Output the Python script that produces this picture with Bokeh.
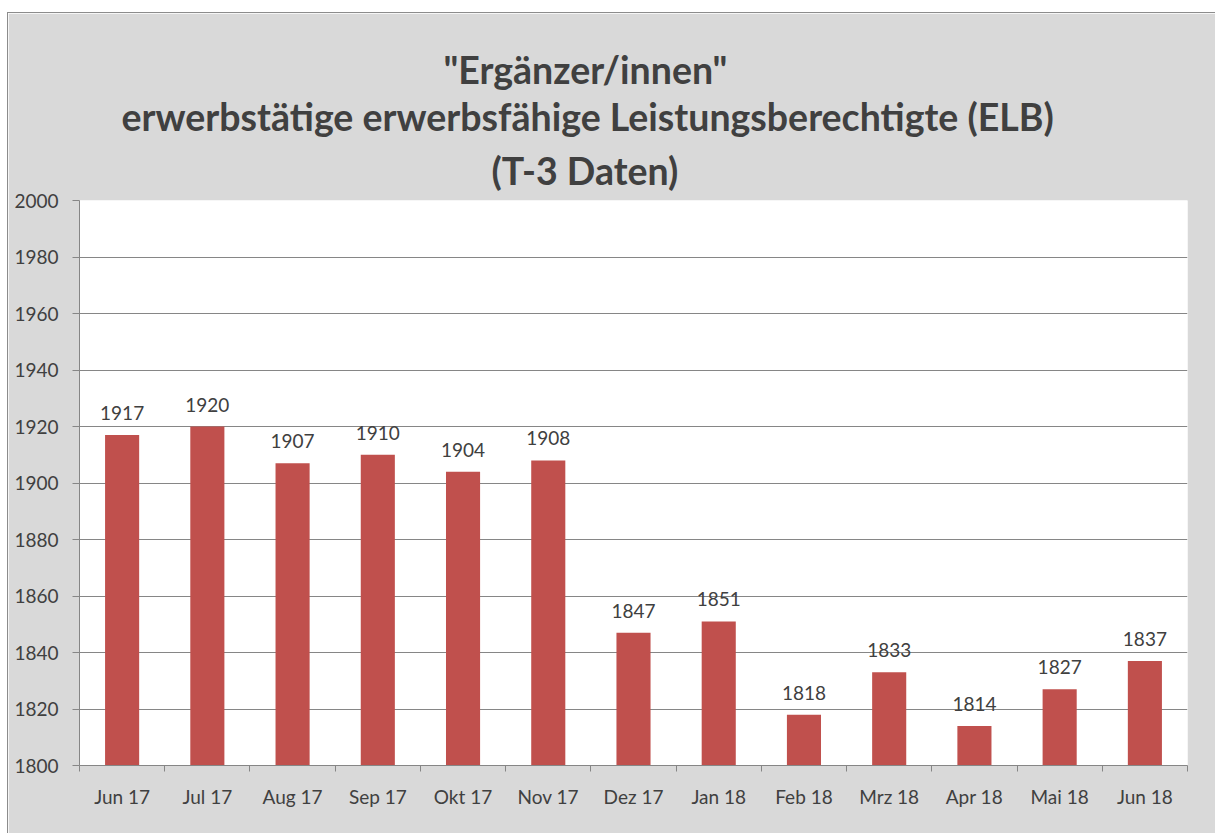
from bokeh.plotting import figure
from bokeh.models import FixedTicker, Range1d, Title, ColumnDataSource
from bokeh.core.properties import value
from bokeh.embed import file_html
from bokeh.resources import INLINE

months = ["Jun 17", "Jul 17", "Aug 17", "Sep 17", "Okt 17", "Nov 17", "Dez 17",
          "Jan 18", "Feb 18", "Mrz 18", "Apr 18", "Mai 18", "Jun 18"]
counts = [1917, 1920, 1907, 1910, 1904, 1908, 1847, 1851, 1818, 1833, 1814, 1827, 1837]
y_ticks = list(range(1800, 2001, 20))
title_lines = ['"Ergänzer/innen"',
               'erwerbstätige erwerbsfähige Leistungsberechtigte (ELB)',
               '(T-3 Daten)']
title_offsets = [364, 42, 412]   # left offsets (px) so each line is centred like the reference

FONT = "Lato"
TXT = "#404040"
GRID = "#868686"
BG = "#d9d9d9"

xs = [i + 0.5 for i in range(len(months))]
src = ColumnDataSource(dict(x=xs, top=counts, lab=[str(c) for c in counts]))

p = figure(width=1208, height=821, output_backend="svg", toolbar_location=None,
           x_range=Range1d(0, len(months)), y_range=Range1d(y_ticks[0], y_ticks[-1]),
           min_border_left=71, min_border_right=29, min_border_top=187, min_border_bottom=69)
p.title = None
p.styles = {"margin-left": "7px", "margin-top": "12px",
            "border-left": "1px solid #8c8c8c", "border-top": "1px solid #8c8c8c"}
p.border_fill_color = BG
p.background_fill_color = "white"
p.outline_line_color = None

p.vbar(x="x", top="top", bottom=y_ticks[0], width=0.4, source=src,
       fill_color="#c0504d", line_color=None)
p.text(x="x", y="top", text="lab", source=src, text_align="center",
       text_baseline="alphabetic", y_offset=-22, text_font=value(FONT),
       text_font_size="19px", text_color=TXT)

# title lines: added bottom-up so the first line ends on top
for i, (line, off) in enumerate(reversed(list(zip(title_lines, title_offsets)))):
    p.add_layout(Title(text=line, align="left", offset=off, text_font=FONT,
                       text_font_size="37.5px", text_font_style="bold", text_color=TXT,
                       standoff=(15 if i == 0 else 0), text_line_height=1.0), "above")

# y axis
p.yaxis.ticker = FixedTicker(ticks=y_ticks)
p.yaxis.axis_line_color = GRID
p.yaxis.major_tick_line_color = GRID
p.yaxis.major_tick_in = 0
p.yaxis.major_tick_out = 7
p.yaxis.minor_tick_line_color = None
p.yaxis.major_label_text_font = FONT
p.yaxis.major_label_text_font_size = "19px"
p.yaxis.major_label_text_color = TXT
p.yaxis.major_label_standoff = 14

# x axis: labels at centers, ticks at category boundaries
p.xaxis.ticker = FixedTicker(ticks=xs, minor_ticks=list(range(len(months) + 1)))
p.xaxis.major_label_overrides = {x: m for x, m in zip(xs, months)}
p.xaxis.axis_line_color = GRID
p.xaxis.major_tick_line_color = None
p.xaxis.minor_tick_line_color = GRID
p.xaxis.minor_tick_in = 0
p.xaxis.minor_tick_out = 6
p.xaxis.major_label_text_font = FONT
p.xaxis.major_label_text_font_size = "19px"
p.xaxis.major_label_text_color = TXT
p.xaxis.major_label_standoff = 13

p.xgrid.grid_line_color = None
p.ygrid.grid_line_color = GRID
p.ygrid.ticker = FixedTicker(ticks=y_ticks)

open("out.html", "w").write(file_html(p, INLINE))
